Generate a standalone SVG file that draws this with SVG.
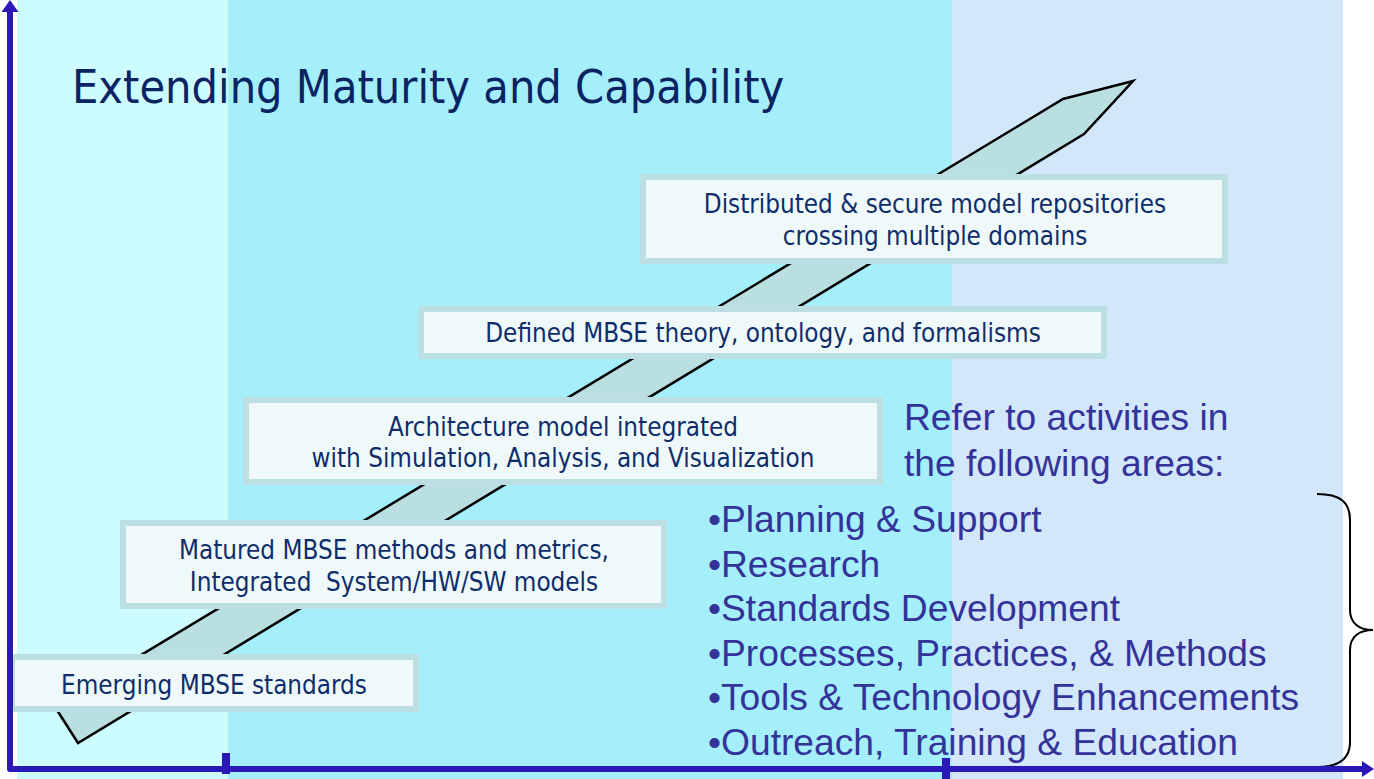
<svg xmlns="http://www.w3.org/2000/svg" width="1374" height="779" viewBox="0 0 1374 779">
<style>
.box{fill:#F0F9F9;stroke:#BBDFE2;stroke-width:6}
.bt{font-family:'DejaVu Sans Condensed','DejaVu Sans',sans-serif;font-size:25.8px;fill:#0E2D6A;text-anchor:middle}
.title{font-family:'DejaVu Sans Condensed','DejaVu Sans',sans-serif;font-size:46.4px;fill:#0A2463}
.rt{font-family:'Liberation Sans',Arial,sans-serif;font-size:37.2px;fill:#33339A}
.axis{fill:none;stroke:#2A18B8;stroke-width:6;stroke-linejoin:round}
</style>
<defs>
<marker id="ah" viewBox="0 0 12 16" refX="0" refY="8" markerWidth="12" markerHeight="16" markerUnits="userSpaceOnUse" orient="auto">
<path d="M0,0 L12,8 L0,16 Z" fill="#2A18B8"/>
</marker>
</defs>
<g id="background">
<rect x="0" y="0" width="1374" height="779" fill="#FFFFFF"/>
<rect x="17" y="0" width="211" height="779" fill="#CCFCFD"/>
<rect x="228" y="0" width="724" height="779" fill="#A5EFFB"/>
<rect x="952" y="0" width="391" height="779" fill="#D3E7FB"/>
</g>
<g id="title">
<text class="title" x="72" y="103">Extending Maturity and Capability</text>
</g>
<g id="progress-arrow">
<polygon points="55,707 78,743 1084,134 1133,81 1063,99" fill="#BADFE1" stroke="#000" stroke-width="2.5" stroke-linejoin="miter"/>
</g>
<g id="node-emerging">
<rect class="box" x="12" y="657" width="404" height="52"/>
<text class="bt" x="214" y="694">Emerging MBSE standards</text>
</g>
<g id="node-matured">
<rect class="box" x="123" y="523" width="541" height="83"/>
<text class="bt" x="394" y="559">Matured MBSE methods and metrics,</text>
<text class="bt" x="394" y="591" xml:space="preserve">Integrated  System/HW/SW models</text>
</g>
<g id="node-architecture">
<rect class="box" x="246" y="400" width="634" height="82"/>
<text class="bt" x="563" y="436">Architecture model integrated</text>
<text class="bt" x="563" y="467">with Simulation, Analysis, and Visualization</text>
</g>
<g id="node-defined">
<rect class="box" x="421" y="309" width="683" height="47"/>
<text class="bt" x="763" y="342">Defined MBSE theory, ontology, and formalisms</text>
</g>
<g id="node-distributed">
<rect class="box" x="643" y="177" width="582" height="84"/>
<text class="bt" x="935" y="213">Distributed &amp; secure model repositories</text>
<text class="bt" x="935" y="245">crossing multiple domains</text>
</g>
<g id="activities">
<text class="rt" x="904" y="430">Refer to activities in</text>
<text class="rt" x="904" y="476">the following areas:</text>
<text class="rt" x="708" y="532">•Planning &amp; Support</text>
<text class="rt" x="708" y="577">•Research</text>
<text class="rt" x="708" y="621">•Standards Development</text>
<text class="rt" x="708" y="666">•Processes, Practices, &amp; Methods</text>
<text class="rt" x="708" y="710">•Tools &amp; Technology Enhancements</text>
<text class="rt" x="708" y="755">•Outreach, Training &amp; Education</text>
</g>
<g id="brace">
<path d="M1317,494 C1340,494 1350,502 1350,520 L1350,610 C1350,624 1360,630 1373,630 C1360,630 1350,636 1350,650 L1350,742 C1350,758 1340,767 1317,767" fill="none" stroke="#000" stroke-width="2"/>
</g>
<g id="connectors">
<path class="axis" d="M10,12 L10,769 L1362,769" marker-end="url(#ah)"/>
<path d="M10,0 L18.5,12 L1.5,12 Z" fill="#2A18B8"/>
<line x1="226" y1="753" x2="226" y2="774" stroke="#2A18B8" stroke-width="8"/>
<line x1="946" y1="758" x2="946" y2="779" stroke="#2A18B8" stroke-width="8"/>
</g>
</svg>
